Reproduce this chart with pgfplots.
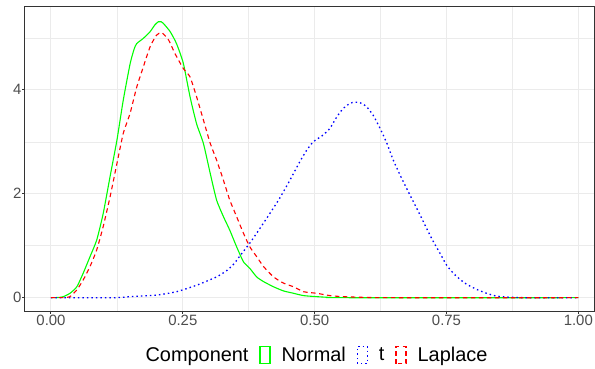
\documentclass[border=0pt]{standalone}
\usepackage{fontspec}
\setmainfont{Liberation Sans}
\usepackage{pgfplots}
\pgfplotsset{compat=1.18}
\definecolor{gridc}{HTML}{EBEBEB}
\definecolor{tickc}{HTML}{4D4D4D}
\definecolor{framec}{HTML}{333333}
\definecolor{cgreen}{HTML}{00FF00}
\definecolor{cblue}{HTML}{0000FF}
\definecolor{cred}{HTML}{FF0000}
\pgfplotsset{boxlegend/.style={legend image code/.code={\draw[##1, line width=1.4bp] (0bp,-8.6bp) rectangle (10bp,8.6bp);}}}
\begin{document}
\begin{tikzpicture}
\useasboundingbox (-25bp,-58bp) rectangle (570bp,311bp);
\begin{axis}[
 scale only axis, width=569.5bp, height=304.3bp,
 at={(0,0)}, anchor=south west,
 xmin=-0.0493, xmax=1.0307, ymin=-0.256, ymax=5.60,
 xtick={0,0.25,0.5,0.75,1}, xticklabels={0.00,0.25,0.50,0.75,1.00},
 ytick={0,2,4},
 minor xtick={0.125,0.375,0.625,0.875}, minor ytick={1,3,5},
 grid=both, major grid style={gridc, line width=1bp}, minor grid style={gridc, line width=0.6bp},
 axis line style={framec, line width=1bp},
 tick style={framec, line width=1bp},
 major tick length=2.75bp, minor tick length=0pt,
 tick align=outside, xtick pos=bottom, ytick pos=left,
 ticklabel style={font=\fontsize{15}{18}\selectfont, text=tickc},
 /pgf/number format/assume math mode=true,
 xticklabel style={anchor=north, inner sep=0pt, yshift=-1.25bp},
 yticklabel style={anchor=east, inner sep=0pt, xshift=-0.5bp},
 legend columns=-1,
 legend style={draw=none, fill=none, font=\fontsize{20}{24}\selectfont,
   at={(axis description cs:0.192,0)}, anchor=west, yshift=-44bp,
   inner sep=0pt, nodes={inner sep=0pt},
   /tikz/every even column/.append style={column sep=10.7bp},
   /tikz/every odd column/.append style={column sep=11bp}},
]
\addlegendimage{empty legend}
\addlegendentry{Component}
\addplot[color=cgreen, line width=1.1bp, smooth, tension=0.35, boxlegend] coordinates {
(0,0) (0.015,0.005) (0.0234,0.02) (0.036,0.085) (0.049,0.21) (0.061,0.47) (0.074,0.79) (0.0867,1.11) (0.099,1.62) (0.112,2.33) (0.125,3.03) (0.137,3.80) (0.150,4.5) (0.1575,4.78) (0.1625,4.89) (0.175,4.99) (0.188,5.12) (0.197,5.25) (0.2035,5.31) (0.209,5.31) (0.213,5.28) (0.226,5.12) (0.238,4.89) (0.251,4.51) (0.2636,3.87) (0.276,3.35) (0.289,2.97) (0.302,2.39) (0.314,1.88) (0.327,1.56) (0.339,1.30) (0.352,0.98) (0.365,0.69) (0.377,0.565) (0.390,0.40) (0.403,0.31) (0.422,0.21) (0.441,0.13) (0.460,0.085) (0.479,0.04) (0.504,0.02) (0.53,0.005) (0.56,0) (1,0)
};
\addlegendentry{Normal}
\addplot[color=cblue, line width=1.3bp, dash pattern=on 1.5bp off 3bp, smooth, tension=0.35, boxlegend] coordinates {
(0,0) (0.12,0) (0.150,0.02) (0.200,0.05) (0.238,0.115) (0.276,0.24) (0.314,0.40) (0.333,0.52) (0.346,0.64) (0.358,0.80) (0.377,1.05) (0.396,1.33) (0.415,1.62) (0.434,1.92) (0.453,2.26) (0.472,2.62) (0.485,2.84) (0.4975,3.0) (0.516,3.13) (0.529,3.26) (0.542,3.48) (0.554,3.64) (0.567,3.74) (0.575,3.76) (0.583,3.76) (0.591,3.73) (0.599,3.67) (0.611,3.51) (0.624,3.26) (0.637,2.97) (0.649,2.65) (0.662,2.36) (0.6746,2.10) (0.687,1.85) (0.700,1.59) (0.7125,1.33) (0.725,1.08) (0.738,0.85) (0.750,0.63) (0.763,0.47) (0.776,0.35) (0.788,0.26) (0.807,0.16) (0.826,0.085) (0.845,0.03) (0.867,0.01) (0.9,0) (1,0)
};
\addlegendentry{t}
\addplot[color=cred, line width=1.1bp, dash pattern=on 4.5bp off 3.5bp, smooth, tension=0.35, boxlegend] coordinates {
(0,0) (0.025,0.003) (0.036,0.02) (0.049,0.15) (0.061,0.34) (0.074,0.60) (0.0867,0.92) (0.099,1.37) (0.112,1.94) (0.125,2.58) (0.137,3.16) (0.150,3.55) (0.1625,4.05) (0.175,4.44) (0.188,4.83) (0.200,5.05) (0.210,5.10) (0.223,4.96) (0.235,4.70) (0.251,4.41) (0.2636,4.25) (0.276,3.87) (0.289,3.42) (0.302,2.97) (0.314,2.65) (0.327,2.26) (0.339,1.88) (0.352,1.56) (0.365,1.24) (0.377,0.98) (0.390,0.79) (0.403,0.60) (0.422,0.40) (0.441,0.28) (0.460,0.21) (0.479,0.115) (0.504,0.085) (0.529,0.04) (0.554,0.02) (0.6,0.005) (0.65,0) (1,0)
};
\addlegendentry{Laplace}
\end{axis}
\end{tikzpicture}
\end{document}
